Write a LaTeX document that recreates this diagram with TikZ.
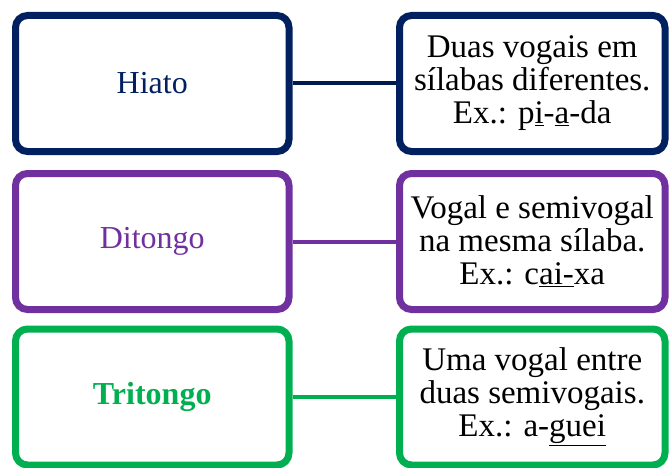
\documentclass[tikz,border=0pt]{standalone}
\usepackage{fontspec}
\setmainfont{Liberation Serif}
\usetikzlibrary{shadows}
\definecolor{navy}{HTML}{002060}
\definecolor{purp}{HTML}{7030A0}
\definecolor{grn}{HTML}{00B050}
\tikzset{
  box/.style={draw, line width=7pt, rounded corners=12pt, fill=white, inner sep=0pt,
    drop shadow={opacity=0.35, shadow xshift=2pt, shadow yshift=-3pt}},
  lbox/.style={box, minimum width=273.5pt, minimum height=136pt, font=\fontsize{32}{34}\selectfont},
  rbox/.style={box, minimum width=265.5pt, minimum height=136pt, align=center, font=\fontsize{33}{33}\selectfont},
  conn/.style={line width=4pt}
}
\begin{document}
\begin{tikzpicture}[x=1pt,y=1pt]
\useasboundingbox (0,0) rectangle (669,467);
% row 1
\node[lbox, draw=navy, text=navy] (hiato) at (152.25,383.5) {Hiato};
\node[rbox, draw=navy] (d1) at (532.25,383.5) {Duas vogais em\\sílabas diferentes.\\Ex.: p\underline{i}-\underline{a}-da};
% row 2
\node[lbox, draw=purp, text=purp] (ditongo) at (152.25,225.5) {Ditongo};
\node[rbox, draw=purp] (d2) at (532.25,225.5) {Vogal e semivogal\\na mesma sílaba.\\Ex.: c\underline{ai-}xa};
% row 3
\node[lbox, draw=grn, text=grn, font=\fontsize{32}{34}\selectfont\bfseries] (tritongo) at (152.25,70) {Tritongo};
\node[rbox, draw=grn] (d3) at (532.25,70) {Uma vogal entre\\duas semivogais.\\Ex.: a-\underline{guei}};
% connectors
\draw[conn, draw=navy!80!black] (hiato.east) -- (d1.west);
\draw[conn, draw=purp] (ditongo.east) -- (d2.west);
\draw[conn, draw=grn] (tritongo.east) -- (d3.west);
\end{tikzpicture}
\end{document}
